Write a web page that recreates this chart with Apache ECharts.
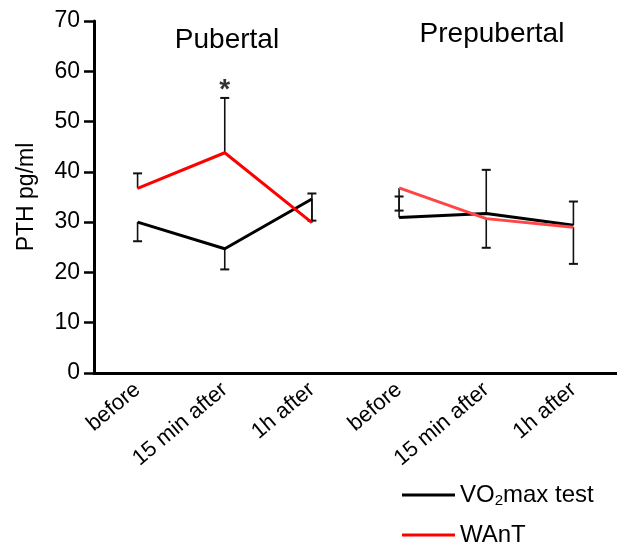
<!DOCTYPE html>
<html>
<head>
<meta charset="utf-8">
<script src="https://cdn.jsdelivr.net/npm/echarts@6/dist/echarts.min.js"></script>
<style>
  html, body { margin: 0; padding: 0; background: #fff; }
  #main { width: 617px; height: 549px; }
</style>
</head>
<body>
<div id="main"></div>
<script>
// categories on the x axis (pubertal then prepubertal)
const categories = ['before', '15 min after', '1h after', 'before', '15 min after', '1h after'];

// means, PTH pg/ml
const vo2Pub  = [30.0, 24.7, 34.6];
const wantPub = [36.7, 43.8, 29.9];
const vo2Pre  = [30.9, 31.7, 29.4];
const wantPre = [36.8, 30.7, 29.0];

// end of the one-sided error bar for each mean
const vo2PubErr  = [26.2, 20.6, 30.3];
const wantPubErr = [39.7, 54.7, 35.7];
const vo2PreErr  = [35.1, 40.4, 34.1];
const wantPreErr = [32.3, 24.9, 21.7];

// significance marker: [category index, value]
const sigMarks = [[1, 54.7]];

const FONT = '"Liberation Sans", Arial, sans-serif';
const gap = ['-', '-', '-'];

// [x index, mean, error end]
const errData = [];
[[vo2Pub, vo2PubErr, 0], [wantPub, wantPubErr, 0], [vo2Pre, vo2PreErr, 3], [wantPre, wantPreErr, 3]]
  .forEach(([m, e, off]) => m.forEach((v, i) => errData.push([i + off, v, e[i]])));

const chart = echarts.init(document.getElementById('main'));

function lineSeries(name, data, color) {
  return {
    name: name, type: 'line', data: data, color: color,
    symbol: 'none', z: 3,
    lineStyle: { color: color, width: 3 }
  };
}

function titleText(text, x, y) {
  return {
    type: 'text', x: x, y: y,
    style: { text: text, fontSize: 28, fontFamily: FONT, fill: '#000', textAlign: 'center', textVerticalAlign: 'middle' }
  };
}

chart.setOption({
  animation: false,
  textStyle: { fontFamily: FONT },
  grid: { left: 94, right: -7, top: 21, bottom: 176, containLabel: false },
  legend: {
    orient: 'vertical', left: 402, top: 481, height: 68, padding: 0, itemGap: 12,
    itemWidth: 53, itemHeight: 3, icon: 'rect',
    data: ['VO2max test', 'WAnT'],
    formatter: n => n === 'VO2max test' ? 'VO{sub|2}max test' : n,
    textStyle: {
      color: '#000', fontSize: 24, lineHeight: 28, fontFamily: FONT,
      rich: { sub: { fontSize: 15, lineHeight: 15, padding: [12, 0, 0, 0], fontFamily: FONT, color: '#000' } }
    }
  },
  graphic: [titleText('Pubertal', 227, 40), titleText('Prepubertal', 492, 34)],
  xAxis: {
    type: 'category', data: categories, boundaryGap: true,
    axisLine: { lineStyle: { color: '#000', width: 3 } },
    axisTick: { alignWithLabel: true, length: 10, lineStyle: { color: '#000', width: 3 } },
    axisLabel: { rotate: 40, fontSize: 22, color: '#000', margin: 14, interval: 0, fontFamily: FONT }
  },
  yAxis: {
    type: 'value', min: 0, max: 70, interval: 10,
    name: 'PTH pg/ml', nameLocation: 'middle', nameGap: 56,
    nameTextStyle: { fontSize: 23, color: '#000', fontFamily: FONT },
    splitLine: { show: false },
    axisLine: { show: true, lineStyle: { color: '#000', width: 3 } },
    axisTick: { show: true, length: 10, lineStyle: { color: '#000', width: 2.5 } },
    axisLabel: { fontSize: 23, color: '#000', margin: 14, fontFamily: FONT }
  },
  series: [
    {
      type: 'custom', z: 2, silent: true,
      data: errData,
      renderItem: function (params, api) {
        const x = api.coord([api.value(0), api.value(1)])[0];
        const y0 = api.coord([api.value(0), api.value(1)])[1];
        const y1 = api.coord([api.value(0), api.value(2)])[1];
        return {
          type: 'group',
          children: [
            { type: 'line', shape: { x1: x, y1: y0, x2: x, y2: y1 }, style: { stroke: '#111', lineWidth: 1.6 } },
            { type: 'line', shape: { x1: x - 4.5, y1: y1, x2: x + 4.5, y2: y1 }, style: { stroke: '#111', lineWidth: 2 } }
          ]
        };
      }
    },
    lineSeries('VO2max test', vo2Pub.concat(gap), '#000000'),
    lineSeries('WAnT', wantPub.concat(gap), '#ff0000'),
    lineSeries('VO2max test', gap.concat(vo2Pre), '#000000'),
    lineSeries('WAnT', gap.concat(wantPre), '#ff4545'),
    {
      type: 'scatter', data: sigMarks, symbolSize: 0, silent: true,
      label: { show: true, formatter: '*', position: 'top', distance: 2, offset: [0, 8], fontSize: 28, fontWeight: 'bold', color: '#000', fontFamily: FONT }
    }
  ]
});
</script>
</body>
</html>
